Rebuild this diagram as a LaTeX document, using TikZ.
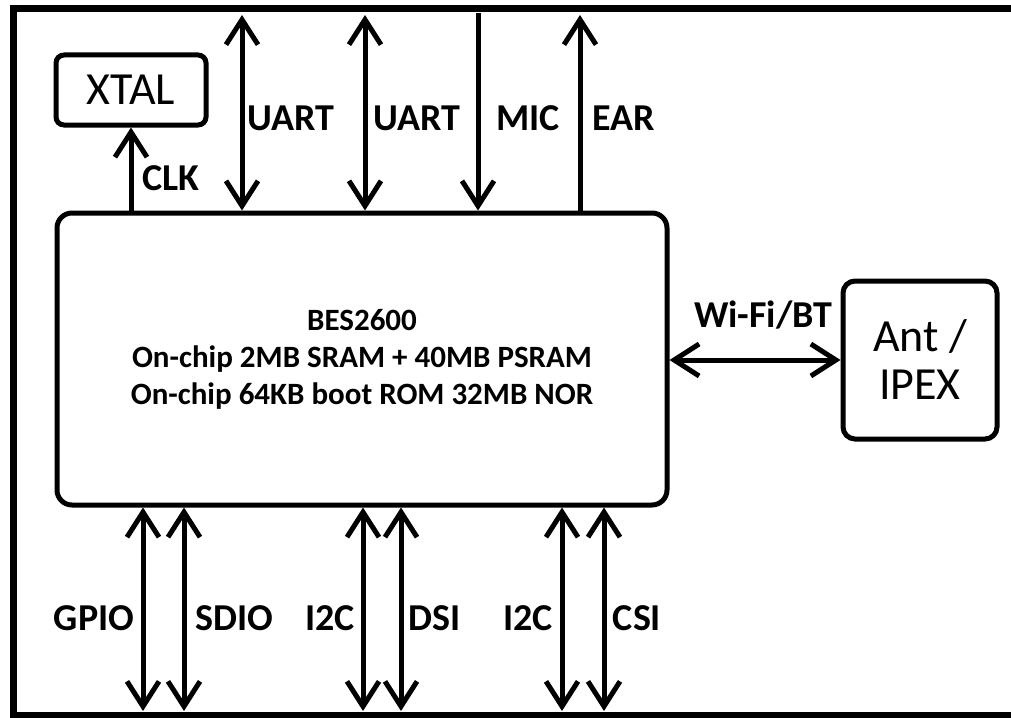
\documentclass[tikz,border=0pt]{standalone}
\usepackage{fontspec}
\setmainfont{Carlito}
\usetikzlibrary{arrows.meta}

\begin{document}
\begin{tikzpicture}[x=1pt,y=-1pt,line width=5pt,
    >={Straight Barb[length=25pt,width=32pt]},
    blk/.style={draw,rounded corners=#1,inner sep=0pt},
    lbl/.style={font=\fontsize{38}{42}\selectfont\bfseries,inner sep=0pt,anchor=base}]
  \useasboundingbox (0,0) rectangle (1011,717);
  \clip (0,0) rectangle (1011,717);
  \draw [line width=7pt] (13,9) rectangle (1040,715);

  \node [blk=15,minimum width=610pt,minimum height=292pt,align=center,
    font=\fontsize{31}{37}\selectfont\bfseries] (soc) at (362,359)
    {BES2600\\On-chip 2MB SRAM + 40MB PSRAM\\On-chip 64KB boot ROM 32MB NOR};
  \node [blk=8,minimum width=150pt,minimum height=70pt,
    font=\fontsize{46}{50}\selectfont] (xtal) at (131,90) {XTAL};
  \node [blk=12,minimum width=154pt,minimum height=158pt,align=center,
    font=\fontsize{46}{48}\selectfont] (ant) at (920,360) {Ant /\\IPEX};

  \coordinate (t1) at (242,15); \coordinate (t2) at (365,15);
  \coordinate (t3) at (478,13); \coordinate (t4) at (580,15);
  \coordinate (b1) at (143,711); \coordinate (b2) at (184,711);
  \coordinate (b3) at (363,711); \coordinate (b4) at (401,711);
  \coordinate (b5) at (562,711); \coordinate (b6) at (604,711);

  \draw [->] (soc.north -| xtal.south) -- (xtal.south);
  \draw [<->] (soc.north -| t1) -- (t1); \draw [<->] (soc.north -| t2) -- (t2);
  \draw [->] (t3) -- (soc.north -| t3); \draw [->] (soc.north -| t4) -- (t4);
  \draw [<->] (soc.south -| b1) -- (b1); \draw [<->] (soc.south -| b2) -- (b2);
  \draw [<->] (soc.south -| b3) -- (b3); \draw [<->] (soc.south -| b4) -- (b4);
  \draw [<->] (soc.south -| b5) -- (b5); \draw [<->] (soc.south -| b6) -- (b6);
  \draw [<->] (soc.east |- ant.west) -- (ant.west);

  \node [lbl] (clk) at (171,190) {CLK};
  \node [lbl] (uart1) at (291,130) {UART}; \node [lbl] (uart2) at (417,130) {UART};
  \node [lbl] (mic) at (528,130) {MIC}; \node [lbl] (ear) at (624,130) {EAR};
  \node [lbl] (gpio) at (94,630) {GPIO}; \node [lbl] (sdio) at (234,630) {SDIO};
  \node [lbl] (i2ca) at (330,630) {I2C}; \node [lbl] (dsi) at (435,630) {DSI};
  \node [lbl] (i2cb) at (528,630) {I2C}; \node [lbl] (csi) at (637,630) {CSI};
  \node [lbl] (wifi) at (763,327) {Wi-Fi/BT};
\end{tikzpicture}
\end{document}
